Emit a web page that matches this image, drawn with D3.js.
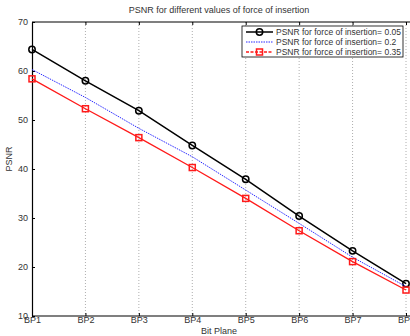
<!DOCTYPE html>
<html>
<head>
<meta charset="utf-8">
<script src="https://cdn.jsdelivr.net/npm/d3@7"></script>
<style>
  body { margin: 0; background: #fff; }
  text { font-family: "Liberation Sans", Arial, sans-serif; fill: #333; }
</style>
</head>
<body>
<script>
// chart data
const bitPlanes = ["BP1", "BP2", "BP3", "BP4", "BP5", "BP6", "BP7", "BP8"];
const psnr005 = [64.4, 58.0, 51.9, 44.8, 37.9, 30.4, 23.3, 16.6];
const psnr02 = [60.3, 54.6, 48.3, 42.5, 35.7, 28.9, 22.0, 16.0];
const psnr035 = [58.4, 52.3, 46.4, 40.3, 34.0, 27.4, 21.1, 15.3];
const yTicks = [10, 20, 30, 40, 50, 60, 70];

const W = 410, H = 336;
const m = {left: 32, right: 4, top: 22, bottom: 20};

const svg = d3.select("body").append("svg")
  .attr("width", W)
  .attr("height", H);

const x = d3.scalePoint().domain(bitPlanes).range([m.left, W - m.right]);
const y = d3.scaleLinear().domain([10, 70]).range([H - m.bottom, m.top]);

// vertical dotted grid
svg.append("g")
  .selectAll("line")
  .data(bitPlanes.slice(1))
  .enter().append("line")
  .attr("x1", d => x(d)).attr("x2", d => x(d))
  .attr("y1", y(70)).attr("y2", y(10))
  .attr("stroke", "#999")
  .attr("stroke-width", 0.8)
  .attr("stroke-dasharray", "1,2");

// axes
const xAxis = svg.append("g")
  .attr("transform", `translate(0,${y(10)})`)
  .call(d3.axisBottom(x).tickSizeInner(-3).tickSizeOuter(0).tickPadding(1));
const xTop = svg.append("g")
  .attr("transform", `translate(0,${y(70)})`)
  .call(d3.axisTop(x).tickSizeInner(-3).tickSizeOuter(0).tickFormat(""));
const yAxis = svg.append("g")
  .attr("transform", `translate(${m.left},0)`)
  .call(d3.axisLeft(y).tickValues(yTicks).tickSizeInner(-3).tickSizeOuter(0).tickPadding(4));

[xAxis, xTop, yAxis].forEach(g => {
  g.select(".domain").attr("stroke", "#000").attr("stroke-width", 1.2);
  g.selectAll(".tick line").attr("stroke", "#000");
  g.selectAll("text").style("font-size", "9px").attr("fill", "#333");
});
xTop.select(".domain").attr("d", `M${m.left},0H${W}`);
xAxis.select(".domain").attr("d", `M${m.left},0H${W}`);

// series
const series = [
  {name: "PSNR for force of insertion= 0.05", values: psnr005, color: "#000", dash: null, width: 1.5, marker: "circle"},
  {name: "PSNR for force of insertion= 0.2", values: psnr02, color: "#2a2aff", dash: "1.5,1", width: 1, marker: null},
  {name: "PSNR for force of insertion= 0.35", values: psnr035, color: "#ff1a1a", dash: null, width: 1.3, marker: "square"}
];

const line = d3.line()
  .x((d, i) => x(bitPlanes[i]))
  .y(d => y(d));

function drawMarker(g, s, cx, cy) {
  if (s.marker === "circle") {
    g.append("circle").attr("cx", cx).attr("cy", cy).attr("r", 3.2)
      .attr("fill", "none").attr("stroke", s.color).attr("stroke-width", 1.5);
  } else if (s.marker === "square") {
    g.append("rect").attr("x", cx - 3).attr("y", cy - 3).attr("width", 6).attr("height", 6)
      .attr("fill", "none").attr("stroke", s.color).attr("stroke-width", 1.5);
  }
}

series.forEach(s => {
  const g = svg.append("g");
  g.append("path")
    .datum(s.values)
    .attr("d", line)
    .attr("fill", "none")
    .attr("stroke", s.color)
    .attr("stroke-width", s.width)
    .attr("stroke-dasharray", s.dash);
  s.values.forEach((v, i) => drawMarker(g, s, x(bitPlanes[i]), y(v)));
});

// legend
const lg = svg.append("g");
lg.append("rect")
  .attr("x", 242).attr("y", 26).attr("width", 161).attr("height", 31)
  .attr("fill", "#fff").attr("stroke", "#000").attr("stroke-width", 0.8);
series.forEach((s, i) => {
  const ly = 32 + i * 10;
  lg.append("line")
    .attr("x1", 246).attr("x2", 273).attr("y1", ly).attr("y2", ly)
    .attr("stroke", s.color)
    .attr("stroke-width", s.width)
    .attr("stroke-dasharray", s.marker === "square" ? "3,1.5" : s.dash);
  drawMarker(lg, s, 259.5, ly);
  lg.append("text")
    .attr("x", 276).attr("y", ly + 3)
    .style("font-size", "8.5px")
    .text(s.name);
});

// titles
svg.append("text")
  .attr("x", 219).attr("y", 13)
  .attr("text-anchor", "middle")
  .style("font-size", "9px")
  .text("PSNR for different values of force of insertion");
svg.append("text")
  .attr("x", 219).attr("y", 334)
  .attr("text-anchor", "middle")
  .style("font-size", "9px")
  .text("Bit Plane");
svg.append("text")
  .attr("transform", "translate(12,159) rotate(-90)")
  .attr("text-anchor", "middle")
  .style("font-size", "9px")
  .text("PSNR");
</script>
</body>
</html>
